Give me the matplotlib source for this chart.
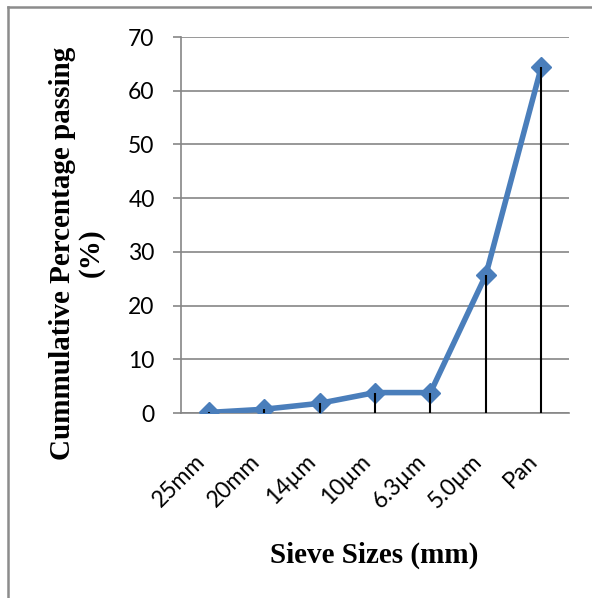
import numpy as np
import matplotlib
matplotlib.use('Agg')
from matplotlib import pyplot as plt
from matplotlib.lines import Line2D

# 数据
sieve_sizes = ['25mm', '20mm', '14µm', '10µm', '6.3µm', '5.0µm', 'Pan']
cum_passing = [0.1, 0.7, 1.8, 3.8, 3.8, 25.7, 64.4]
y_ticks = [0, 10, 20, 30, 40, 50, 60, 70]

line_color = '#4A7EBB'
grid_color = '#868686'
W, H = 592, 598

fig = plt.figure(figsize=(W / 100, H / 100), dpi=100)
ax = fig.add_axes([181 / W, 1 - 413 / H, 388 / W, 376 / H])

x = np.arange(len(sieve_sizes))

ax.plot(x, cum_passing, color=line_color, lw=4, marker='D', ms=10,
        mec=line_color, mfc=line_color, zorder=3)
# drop lines
ax.vlines(x, 0, cum_passing, colors='black', lw=1.5, zorder=4)

ax.set_xlim(-0.5, len(sieve_sizes) - 0.5)
ax.set_ylim(0, 70)
ax.set_yticks(y_ticks)
ax.set_xticks(x)
ax.set_xticklabels(sieve_sizes, rotation=45, ha='right', va='top',
                   family=['Lato', 'DejaVu Sans'], fontsize=16.5)
ax.set_yticklabels([str(v) for v in y_ticks], family=['Lato', 'DejaVu Sans'], fontsize=16.5)

ax.yaxis.grid(True, color=grid_color, lw=1.2)
ax.set_axisbelow(True)
for s in ['top', 'right']:
    ax.spines[s].set_visible(False)
ax.spines['left'].set_color(grid_color)
ax.spines['left'].set_linewidth(1.2)
ax.spines['bottom'].set_color(grid_color)
ax.spines['bottom'].set_linewidth(1.2)
ax.tick_params(axis='y', length=6, width=1.2, color=grid_color, pad=13)
ax.tick_params(axis='x', length=0, pad=27)

# 轴标题
fig.text(374 / W, 1 - 563 / H, 'Sieve Sizes (mm)', ha='center', va='baseline',
         family='Liberation Serif', fontweight='bold', fontsize=21)
fig.text(70 / W, 1 - 253 / H, 'Cummulative Percentage passing', ha='center',
         va='baseline', rotation=90, rotation_mode='anchor',
         family='Liberation Serif', fontweight='bold', fontsize=21)
fig.text(98 / W, 1 - 253 / H, '(%)', ha='center',
         va='baseline', rotation=90, rotation_mode='anchor',
         family='Liberation Serif', fontweight='bold', fontsize=21)

# 外框
fig.add_artist(Line2D([8 / W, 8 / W], [0, 1 - 7 / H], color='#8C8C8C', lw=1.8))
fig.add_artist(Line2D([8 / W, 1], [1 - 7 / H, 1 - 7 / H], color='#8C8C8C', lw=1.8))

fig.savefig('out.png', dpi=100)
